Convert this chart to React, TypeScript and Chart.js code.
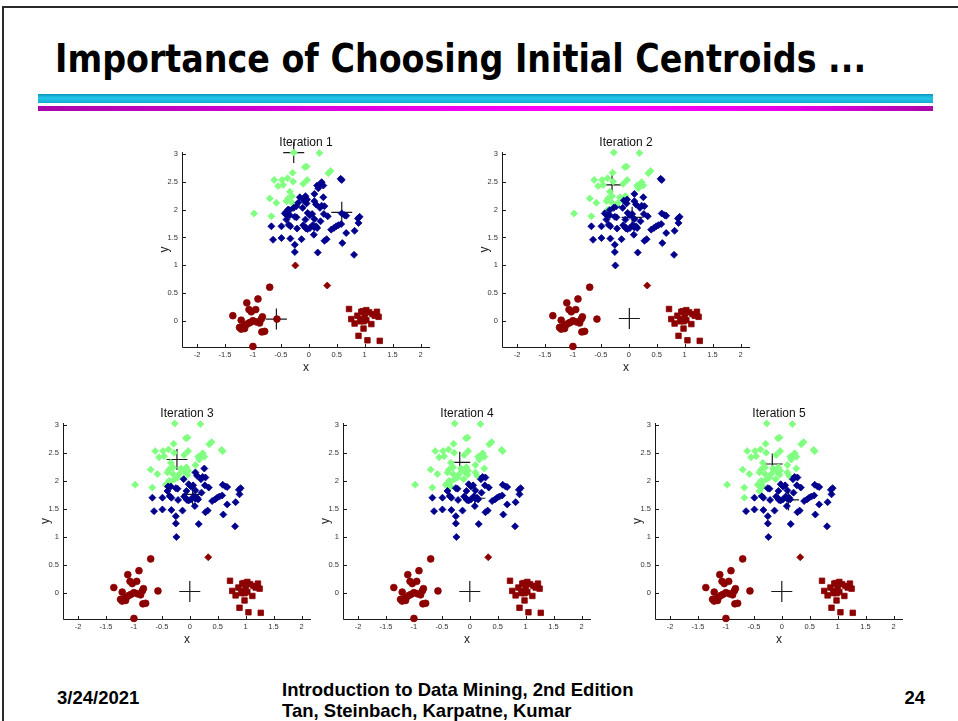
import { useEffect, useRef } from 'react';
import { Chart, registerables } from 'chart.js';

Chart.register(...registerables);

// Upper group (diamond markers), including the two strays between the groups
const diamondX = [
  -0.27, 0.19, -0.07, -0.04, 0.39, 0.35, -0.29, -0.38, -0.62, -0.48,
  -0.55, -0.46, -0.28, -0.1, -0.03, -0.34, -0.3, -0.7, -0.58, -0.4,
  -0.37, -0.98, -0.67,
  0.57, 0.59, 0.15, 0.2, 0.23, 0.26, 0.17, 0.1, 0.26, -0.16,
  -0.06, -0.03, -0.09, -0.04, -0.3, -0.27, -0.22, -0.19, 0.1, 0.13,
  0.2, 0.23, 0.28, -0.4, -0.37, -0.34, -0.43, -0.39, -0.34, -0.25,
  -0.22, -0.02, 0.02, 0.06, 0.27, 0.34, 0.59, 0.64, 0.67, 0.88,
  0.91, 0.89, -0.67, -0.49, -0.33, -0.36, -0.21, -0.1, -0.06, -0.02,
  -0.05, 0.02, 0.07, 0.1, 0.13, 0.15, 0.21, 0.4, 0.45, 0.49,
  0.53, 0.58, 0.82, 0.67, -0.64, -0.49, -0.33, -0.13, 0.09, 0.28,
  0.32, 0.6, -0.25, -0.25, 0.16, 0.81, -0.4, -0.06, 0.1, -0.11,
  -0.24, 0.33,
];
const diamondY = [
  3.02, 3.01, 2.76, 2.77, 2.69, 2.65, 2.66, 2.56, 2.53, 2.53,
  2.42, 2.44, 2.5, 2.46, 2.53, 2.32, 2.24, 2.2, 2.12, 2.15,
  2.2, 1.93, 1.88,
  2.55, 2.53, 2.43, 2.45, 2.49, 2.43, 2.38, 2.28, 2.22, 2.22,
  2.24, 2.18, 2.16, 2.11, 2.12, 2.03, 2.06, 2.12, 2.15, 2.09,
  2.03, 2.07, 2.06, 1.96, 2.0, 1.99, 1.93, 1.9, 1.9, 1.87,
  1.86, 1.94, 1.9, 1.92, 1.92, 1.88, 1.93, 1.9, 1.89, 1.84,
  1.87, 1.76, 1.7, 1.7, 1.7, 1.73, 1.66, 1.72, 1.68, 1.65,
  1.66, 1.67, 1.72, 1.68, 1.7, 1.67, 1.79, 1.64, 1.67, 1.7,
  1.72, 1.74, 1.62, 1.58, 1.46, 1.49, 1.48, 1.47, 1.55, 1.44,
  1.47, 1.4, 1.37, 1.24, 1.23, 1.19, 1.82, 1.82, 1.83, 2.03,
  1.0, 0.64,
];

// Lower-left group (circle markers)
const circleX = [
  -1.36, -1.21, -1.11, -0.91, -1.07, -1.03, -0.95, -0.83, -0.85, -0.57,
  -0.7, -1.0, -1.05, -1.09, -1.13, -0.94, -0.88, -1.18, -1.24, -1.21,
  -1.15, -0.84, -0.79, -1.0,
];
const circleY = [
  0.1, 0.02, 0.33, 0.4, 0.21, 0.17, 0.21, 0.08, 0.04, 0.04,
  0.61, 0.01, -0.02, -0.04, -0.07, -0.01, -0.03, -0.1, -0.11, -0.14,
  -0.13, -0.19, -0.18, -0.45,
];

// Lower-right group (square markers)
const squareX = [
  0.72, 0.76, 0.82, 0.87, 0.94, 0.97, 1.03, 1.08, 1.14, 1.22,
  1.25, 1.18, 1.0, 0.95, 0.92, 0.98, 1.03, 1.12, 0.98, 0.89,
  1.05, 1.27,
];
const squareY = [
  0.22, 0.04, -0.04, 0.1, 0.17, 0.18, 0.2, 0.16, 0.13, 0.17,
  0.08, 0.1, 0.08, 0.04, 0.0, 0.0, 0.02, -0.05, -0.13, -0.26,
  -0.34, -0.35,
];

const panelTitles = ['Iteration 1', 'Iteration 2', 'Iteration 3', 'Iteration 4', 'Iteration 5'];

// Centroid of each cluster per iteration, ordered [green, blue, red]
const centroidX = [
  [-0.27, 0.59, -0.58],
  [-0.3, 0.06, 0.01],
  [-0.23, 0.05, 0.0],
  [-0.18, 0.09, 0.0],
  [-0.17, 0.12, 0.0],
];
const centroidY = [
  [3.02, 1.95, 0.04],
  [2.44, 1.86, 0.05],
  [2.38, 1.76, 0.03],
  [2.33, 1.69, 0.03],
  [2.3, 1.66, 0.03],
];
const clusterColors = ['#80ff80', '#00008c', '#8c0000'];

const xTickValues = [-2, -1.5, -1, -0.5, 0, 0.5, 1, 1.5, 2];
const yTickValues = [0, 0.5, 1, 1.5, 2, 2.5, 3];
const X_MIN = -2.27;
const X_MAX = 2.17;
const Y_MIN = -0.46;
const Y_MAX = 3.03;

// Page placement of each plot's axes box
const PANELS = [
  { left: 182, top: 152, width: 248, height: 195 },
  { left: 502, top: 152, width: 248, height: 195 },
  { left: 63, top: 423, width: 248, height: 196 },
  { left: 343, top: 423, width: 248, height: 196 },
  { left: 655, top: 423, width: 248, height: 196 },
];
const PAD_L = 40;
const PAD_T = 24;
const PAD_R = 12;
const PAD_B = 30;

const PLOT_FONT = '"Liberation Sans", Arial, Helvetica, sans-serif';

// Axis lines with inward ticks, plus the panel heading
const axisFrame = {
  id: 'axisFrame',
  beforeDatasetsDraw(chart: any) {
    const { ctx, chartArea: a, scales } = chart;
    ctx.save();
    ctx.strokeStyle = '#1a1a1a';
    ctx.lineWidth = 1;
    ctx.beginPath();
    const bx = Math.round(a.left) + 0.5;
    const by = Math.round(a.bottom) + 0.5;
    ctx.moveTo(bx, a.top);
    ctx.lineTo(bx, by);
    ctx.lineTo(a.right, by);
    for (const t of scales.x.ticks) {
      const px = Math.round(scales.x.getPixelForValue(t.value)) + 0.5;
      ctx.moveTo(px, by);
      ctx.lineTo(px, by - 3.5);
    }
    for (const t of scales.y.ticks) {
      const py = Math.round(scales.y.getPixelForValue(t.value)) + 0.5;
      ctx.moveTo(bx, py);
      ctx.lineTo(bx + 3.5, py);
    }
    ctx.stroke();
    ctx.restore();
  },
  afterDraw(chart: any, _args: any, opts: any) {
    const { ctx, chartArea: a } = chart;
    ctx.save();
    ctx.fillStyle = '#111';
    ctx.font = `12px ${PLOT_FONT}`;
    ctx.textAlign = 'center';
    ctx.textBaseline = 'alphabetic';
    ctx.fillText(opts.title, (a.left + a.right) / 2, a.top - 6);
    ctx.restore();
  },
};

function IterationPlot({ index }: { index: number }) {
  const ref = useRef<HTMLCanvasElement>(null);
  const box = PANELS[index];
  const cw = box.width + PAD_L + PAD_R;
  const ch = box.height + PAD_T + PAD_B;

  useEffect(() => {
    const cx = centroidX[index];
    const cy = centroidY[index];
    const nearest = (x: number, y: number) => {
      let best = 0;
      let bestD = Infinity;
      for (let k = 0; k < cx.length; k++) {
        const d = (x - cx[k]) ** 2 + (y - cy[k]) ** 2;
        if (d < bestD) {
          bestD = d;
          best = k;
        }
      }
      return best;
    };
    const markerSet = (xs: number[], ys: number[], style: string, radius: number) => {
      const colors = xs.map((x, i) => clusterColors[nearest(x, ys[i])]);
      return {
        data: xs.map((x, i) => ({ x, y: ys[i] })),
        pointStyle: style,
        pointRadius: radius,
        pointBackgroundColor: colors,
        pointBorderColor: colors,
        pointBorderWidth: 0.8,
        showLine: false,
        clip: false,
      };
    };

    const chart = new Chart(ref.current as HTMLCanvasElement, {
      type: 'scatter',
      data: {
        datasets: [
          markerSet(diamondX, diamondY, 'rectRot', 3.5),
          markerSet(circleX, circleY, 'circle', 3.4),
          markerSet(squareX, squareY, 'rect', 3.9),
          {
            data: cx.map((x, k) => ({ x, y: cy[k] })),
            pointStyle: 'cross',
            pointRadius: 10.5,
            pointBorderColor: '#1a1a1a',
            pointBorderWidth: 1.2,
            showLine: false,
            clip: false,
          },
        ] as any,
      },
      options: {
        animation: false,
        responsive: false,
        events: [],
        layout: { padding: { left: 0, top: PAD_T, right: PAD_R, bottom: 0 } },
        plugins: {
          legend: { display: false },
          tooltip: { enabled: false },
          title: { display: false },
          axisFrame: { title: panelTitles[index] },
        } as any,
        scales: {
          x: {
            type: 'linear',
            position: 'bottom',
            min: X_MIN,
            max: X_MAX,
            bounds: 'data',
            afterBuildTicks: (s: any) => {
              s.ticks = xTickValues.map((v) => ({ value: v }));
            },
            afterFit: (s: any) => {
              s.height = PAD_B;
            },
            grid: { display: false, drawTicks: false },
            border: { display: false },
            ticks: {
              autoSkip: false,
              maxRotation: 0,
              padding: 3,
              color: '#333',
              font: { family: PLOT_FONT, size: 7.5 },
              callback: (v: any) => String(v),
            },
            title: {
              display: true,
              text: 'x',
              color: '#222',
              font: { family: PLOT_FONT, size: 12 },
              padding: { top: 0, bottom: 2 },
            },
          },
          y: {
            type: 'linear',
            position: 'left',
            min: Y_MIN,
            max: Y_MAX,
            bounds: 'data',
            afterBuildTicks: (s: any) => {
              s.ticks = yTickValues.map((v) => ({ value: v }));
            },
            afterFit: (s: any) => {
              s.width = PAD_L;
            },
            grid: { display: false, drawTicks: false },
            border: { display: false },
            ticks: {
              autoSkip: false,
              padding: 4,
              color: '#333',
              font: { family: PLOT_FONT, size: 7.5 },
              callback: (v: any) => String(v),
            },
            title: {
              display: true,
              text: 'y',
              color: '#222',
              font: { family: PLOT_FONT, size: 12 },
              padding: { top: 15, bottom: 0 },
            },
          },
        },
      } as any,
      plugins: [axisFrame],
    });
    return () => chart.destroy();
  }, [index]);

  return (
    <canvas
      ref={ref}
      width={cw}
      height={ch}
      style={{
        position: 'absolute',
        left: box.left - PAD_L,
        top: box.top - PAD_T,
        width: cw,
        height: ch,
      }}
    />
  );
}

const footerFont = '"Liberation Sans", Arial, Helvetica, sans-serif';

export default function App() {
  return (
    <div
      style={{
        position: 'absolute',
        left: 0,
        top: 0,
        width: 958,
        height: 721,
        background: '#ffffff',
        overflow: 'hidden',
      }}
    >
      {/* slide frame */}
      <div
        style={{
          position: 'absolute',
          left: 2,
          top: 6,
          width: 1000,
          height: 800,
          borderLeft: '2px solid #2a2a2a',
          borderTop: '2px solid #2a2a2a',
        }}
      />
      <div
        style={{
          position: 'absolute',
          left: 55,
          top: 39,
          whiteSpace: 'nowrap',
          fontFamily: '"DejaVu Sans Condensed", "DejaVu Sans", sans-serif',
          fontWeight: 'bold',
          fontSize: 39,
          lineHeight: '39px',
          color: '#000',
          transform: 'scaleX(0.95)',
          transformOrigin: 'left top',
        }}
      >
        Importance of Choosing Initial Centroids ...
      </div>
      <div
        style={{
          position: 'absolute',
          left: 38,
          top: 94,
          width: 895,
          height: 9,
          background: 'linear-gradient(to bottom, #0b98bf 0%, #26c6e8 45%, #14acd0 100%)',
        }}
      />
      <div
        style={{
          position: 'absolute',
          left: 38,
          top: 106,
          width: 895,
          height: 5,
          background: 'linear-gradient(to right, #a808a8 0%, #d800dc 30%, #ff00ff 60%, #e400e8 85%, #a808a8 100%)',
        }}
      />
      {PANELS.map((_, i) => (
        <IterationPlot key={i} index={i} />
      ))}
      <div
        style={{
          position: 'absolute',
          left: 57,
          top: 686.5,
          fontFamily: footerFont,
          fontWeight: 'bold',
          fontSize: 18.5,
          lineHeight: '21px',
          whiteSpace: 'nowrap',
          color: '#000',
        }}
      >
        3/24/2021
      </div>
      <div
        style={{
          position: 'absolute',
          left: 282,
          top: 678.5,
          fontFamily: footerFont,
          fontWeight: 'bold',
          fontSize: 18.5,
          lineHeight: '21px',
          whiteSpace: 'nowrap',
          color: '#000',
        }}
      >
        <div>Introduction to Data Mining, 2nd Edition</div>
        <div>Tan, Steinbach, Karpatne, Kumar</div>
      </div>
      <div
        style={{
          position: 'absolute',
          right: 958 - 925,
          top: 686.5,
          fontFamily: footerFont,
          fontWeight: 'bold',
          fontSize: 18.5,
          lineHeight: '21px',
          whiteSpace: 'nowrap',
          color: '#000',
        }}
      >
        24
      </div>
    </div>
  );
}
